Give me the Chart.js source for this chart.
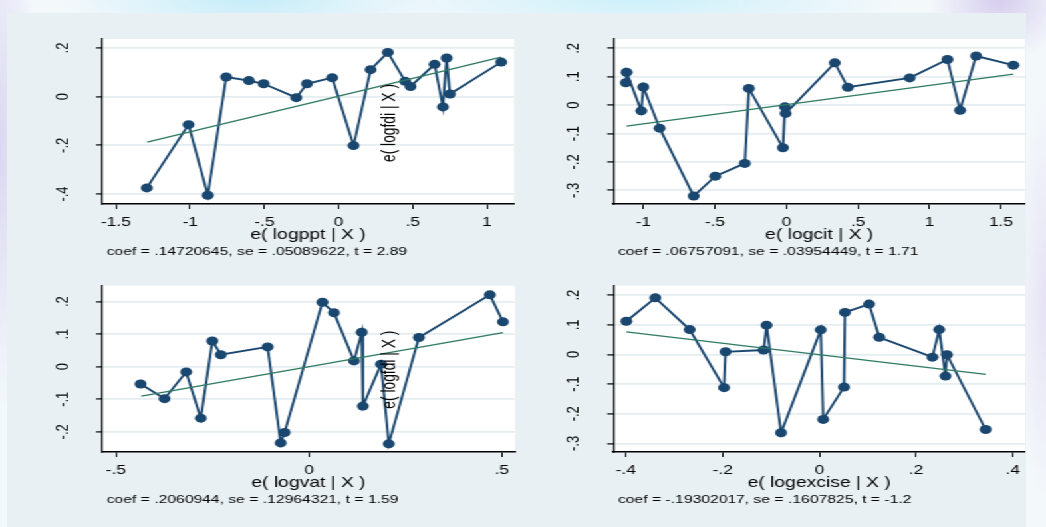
<!DOCTYPE html>
<html>
<head>
<meta charset="utf-8">
<script src="https://cdn.jsdelivr.net/npm/chart.js@4.4.1/dist/chart.umd.min.js"></script>
<style>
html,body{margin:0;padding:0;width:1046px;height:527px;overflow:hidden;}
body{
  background:
    radial-gradient(ellipse 190px 45px at 250px 0px, #c6edf9 0%, rgba(198,237,249,0) 100%),
    radial-gradient(ellipse 260px 40px at 640px 0px, #cdf0fa 0%, rgba(205,240,250,0) 100%),
    radial-gradient(ellipse 70px 60px at 1000px 0px, #d6cdee 0%, rgba(214,205,238,0) 100%),
    radial-gradient(ellipse 40px 260px at 0px 150px, #dcd7f1 0%, rgba(220,215,241,0) 100%),
    radial-gradient(ellipse 30px 200px at 1046px 300px, #e6e2f4 0%, rgba(230,226,244,0) 100%),
    #f3f8fb;
}
#panel{position:absolute;left:7px;top:13px;width:1019px;height:514px;background:#e8f0f3;}
#stage{position:absolute;left:0;top:0;width:787px;height:527px;transform:scaleX(1.33);transform-origin:0 0;}
#stage canvas{position:absolute;}
</style>
</head>
<body>
<div id="panel"></div>
<div id="stage"></div>
<script>
// ---------- data ----------
const pptX = [-1.292,-1.011,-0.881,-0.757,-0.604,-0.505,-0.285,-0.213,-0.043,0.101,0.216,0.332,0.449,0.485,0.647,0.703,0.728,0.750,1.096];
const pptY = [-0.375,-0.115,-0.405,0.081,0.066,0.053,-0.004,0.053,0.078,-0.201,0.111,0.182,0.063,0.042,0.133,-0.042,0.159,0.011,0.142];
const pptFitX = [-1.290, 1.096];
const pptFitY = [-0.187, 0.163];

const citX = [-1.122,-1.117,-1.014,-1.000,-0.886,-0.648,-0.497,-0.290,-0.262,-0.024,-0.010,-0.005,0.338,0.429,0.862,1.126,1.214,1.326,1.587];
const citY = [0.079,0.116,-0.020,0.064,-0.081,-0.320,-0.250,-0.205,0.059,-0.150,-0.006,-0.029,0.149,0.063,0.096,0.161,-0.018,0.173,0.141];
const citFitX = [-1.117, 1.587];
const citFitY = [-0.074, 0.109];

const vatX = [-0.436,-0.374,-0.318,-0.280,-0.250,-0.228,-0.107,-0.073,-0.063,0.035,0.065,0.117,0.137,0.140,0.187,0.207,0.285,0.469,0.503];
const vatY = [-0.053,-0.098,-0.016,-0.158,0.079,0.037,0.061,-0.234,-0.202,0.198,0.166,0.018,0.106,-0.121,0.008,-0.237,0.090,0.221,0.138];
const vatFitX = [-0.434, 0.503];
const vatFitY = [-0.090, 0.105];

const excX = [-0.399,-0.339,-0.268,-0.197,-0.194,-0.115,-0.109,-0.079,0.003,0.008,0.051,0.053,0.103,0.124,0.234,0.248,0.261,0.264,0.344];
const excY = [0.112,0.191,0.084,-0.112,0.009,0.015,0.099,-0.264,0.083,-0.219,-0.110,0.142,0.170,0.058,-0.009,0.084,-0.073,-0.001,-0.253];
const excFitX = [-0.399, 0.344];
const excFitY = [0.076, -0.067];

// tick values and labels
const pptXTicks = [-1.5,-1,-0.5,0,0.5,1];
const pptXLabels = ["-1.5","-1","-.5","0",".5","1"];
const pptYTicks = [-0.4,-0.2,0,0.2];
const pptYLabels = ["-.4","-.2","0",".2"];

const citXTicks = [-1,-0.5,0,0.5,1,1.5];
const citXLabels = ["-1","-.5","0",".5","1","1.5"];
const citYTicks = [-0.3,-0.2,-0.1,0,0.1,0.2];
const citYLabels = ["-.3","-.2","-.1","0",".1",".2"];

const vatXTicks = [-0.5,0,0.5];
const vatXLabels = ["-.5","0",".5"];
const vatYTicks = [-0.2,-0.1,0,0.1,0.2];
const vatYLabels = ["-.2","-.1","0",".1",".2"];

const excXTicks = [-0.4,-0.2,0,0.2,0.4];
const excXLabels = ["-.4","-.2","0",".2",".4"];
const excYTicks = [-0.3,-0.2,-0.1,0,0.1,0.2];
const excYLabels = ["-.3","-.2","-.1","0",".1",".2"];

// texts
const xTitles = ["e( logppt | X )","e( logcit | X )","e( logvat | X )","e( logexcise | X )"];
const notes = [
  "coef = .14720645, se = .05089622, t = 2.89",
  "coef = .06757091, se = .03954449, t = 1.71",
  "coef = .2060944, se = .12964321, t = 1.59",
  "coef = -.19302017, se = .1607825, t = -1.2"
];
const yTitle = "e( logfdi | X )";

// ---------- drawing ----------
const S = 1.33;                 // horizontal stretch of the picture
const NAVY = '#1a476f';
const GREEN = '#2f7a63';
const FONT = "'Liberation Sans', Arial, Helvetica, sans-serif";
Chart.defaults.font.family = FONT;
Chart.defaults.color = '#000';

const stage = document.getElementById('stage');

const specs = [
  {area:[102,514,39,204],   xs:pptX, ys:pptY, fx:pptFitX, fy:pptFitY, xt:pptXTicks, xl:pptXLabels, yt:pptYTicks, yl:pptYLabels, xr:[-1.594,1.182], yr:[-0.441,0.237], title:xTitles[0], note:notes[0], ytitle:true},
  {area:[613.3,1025,39,204],xs:citX, ys:citY, fx:citFitX, fy:citFitY, xt:citXTicks, xl:citXLabels, yt:citYTicks, yl:citYLabels, xr:[-1.21,1.668],  yr:[-0.348,0.233], title:xTitles[1], note:notes[1], ytitle:false},
  {area:[102,515,285.7,452],xs:vatX, ys:vatY, fx:vatFitX, fy:vatFitY, xt:vatXTicks, xl:vatXLabels, yt:vatYTicks, yl:vatYLabels, xr:[-0.536,0.534], yr:[-0.262,0.249], title:xTitles[2], note:notes[2], ytitle:true},
  {area:[613.3,1025.3,285.7,452],xs:excX, ys:excY, fx:excFitX, fy:excFitY, xt:excXTicks, xl:excXLabels, yt:excYTicks, yl:excYLabels, xr:[-0.426,0.426], yr:[-0.329,0.232], title:xTitles[3], note:notes[3], ytitle:false}
];

const plotBg = {
  id:'plotBg',
  beforeDraw(chart){
    const {ctx, chartArea:a} = chart;
    ctx.save(); ctx.fillStyle = '#ffffff';
    ctx.fillRect(a.left, a.top, a.right-a.left, a.bottom-a.top);
    ctx.restore();
  }
};
const texts = {
  id:'texts',
  afterDatasetsDraw(chart, args, opts){
    const {ctx, chartArea:a} = chart;
    if (opts.ytitle) {
      ctx.save();
      ctx.translate(a.left + 216.5, a.top + 84);
      ctx.rotate(-Math.PI/2);
      ctx.font = '13.8px ' + FONT;
      ctx.fillStyle = '#000';
      ctx.textAlign = 'center'; ctx.textBaseline = 'middle';
      ctx.fillText(opts.ytitleText, 0, 0);
      ctx.restore();
    }
  },
  afterDraw(chart, args, opts){
    const {ctx, chartArea:a} = chart;
    ctx.save();
    ctx.font = '11.8px ' + FONT;
    ctx.fillStyle = '#000';
    ctx.textAlign = 'left'; ctx.textBaseline = 'middle';
    ctx.fillText(opts.note, a.left + 3.5, a.bottom + 47.5);
    ctx.restore();
  }
};

function build(spec){
  const [aL,aR,aT,aB] = spec.area;
  const cLeft = Math.floor(aL/S - 70/S);
  const yW = aL/S - cLeft;
  const aw = (aR-aL)/S;
  const cW = Math.ceil(yW + aw + 14);
  const padR = cW - yW - aw;
  const cTop = Math.floor(aT - 14);
  const padT = aT - cTop;
  const ah = aB - aT;
  const XH = 40;
  const cH = Math.ceil(padT + ah + XH + 26);
  const padB = cH - padT - ah - XH;

  const cv = document.createElement('canvas');
  cv.width = cW; cv.height = cH;
  cv.style.left = cLeft + 'px'; cv.style.top = cTop + 'px';
  cv.style.width = cW + 'px'; cv.style.height = cH + 'px';
  stage.appendChild(cv);

  const pts = spec.xs.map((x,i)=>({x, y:spec.ys[i]}));
  const fit = spec.fx.map((x,i)=>({x, y:spec.fy[i]}));

  new Chart(cv, {
    type:'scatter',
    data:{datasets:[
      {data:fit, showLine:true, borderColor:GREEN, borderWidth:1.3, pointRadius:0, order:0},
      {data:pts, showLine:true, borderColor:NAVY, borderWidth:1.9, pointRadius:4.5, pointBackgroundColor:NAVY, pointBorderWidth:0, order:1}
    ]},
    options:{
      responsive:false, animation:false, devicePixelRatio:1,
      layout:{padding:{left:0, right:padR, top:padT, bottom:padB}},
      plugins:{legend:{display:false}, tooltip:{enabled:false},
        texts:{note:spec.note, ytitle:spec.ytitle, ytitleText:yTitle}},
      events:[],
      scales:{
        x:{type:'linear', position:'bottom', min:spec.xr[0], max:spec.xr[1],
          afterBuildTicks:s=>{s.ticks = spec.xt.map(v=>({value:v}));},
          afterFit:s=>{s.height = XH; s.paddingLeft = 0; s.paddingRight = 0;},
          ticks:{autoSkip:false, maxRotation:0, minRotation:0, padding:5.2, font:{size:13}, color:'#000',
            callback:(v,i)=>spec.xl[i]},
          grid:{drawOnChartArea:false, drawTicks:true, tickLength:5, tickColor:'#000', tickWidth:1},
          border:{display:true, color:'#000', width:1.5},
          title:{display:true, text:spec.title, font:{size:14.5}, color:'#000', padding:{top:0,bottom:0}}
        },
        y:{type:'linear', position:'left', min:spec.yr[0], max:spec.yr[1],
          afterBuildTicks:s=>{s.ticks = spec.yt.map(v=>({value:v}));},
          afterFit:s=>{s.width = yW; s.paddingTop = 0; s.paddingBottom = 0;},
          ticks:{autoSkip:false, minRotation:90, maxRotation:90, crossAlign:'center', padding:17.2, font:{size:13}, color:'#000',
            callback:(v,i)=>spec.yl[i]},
          grid:{drawOnChartArea:true, color:'#e4edf0', lineWidth:1.8, drawTicks:true, tickLength:4.5, tickColor:'#000', tickWidth:1.2},
          border:{display:true, color:'#000', width:1.2}
        }
      }
    },
    plugins:[plotBg, texts]
  });
}
specs.forEach(build);
</script>
</body>
</html>
